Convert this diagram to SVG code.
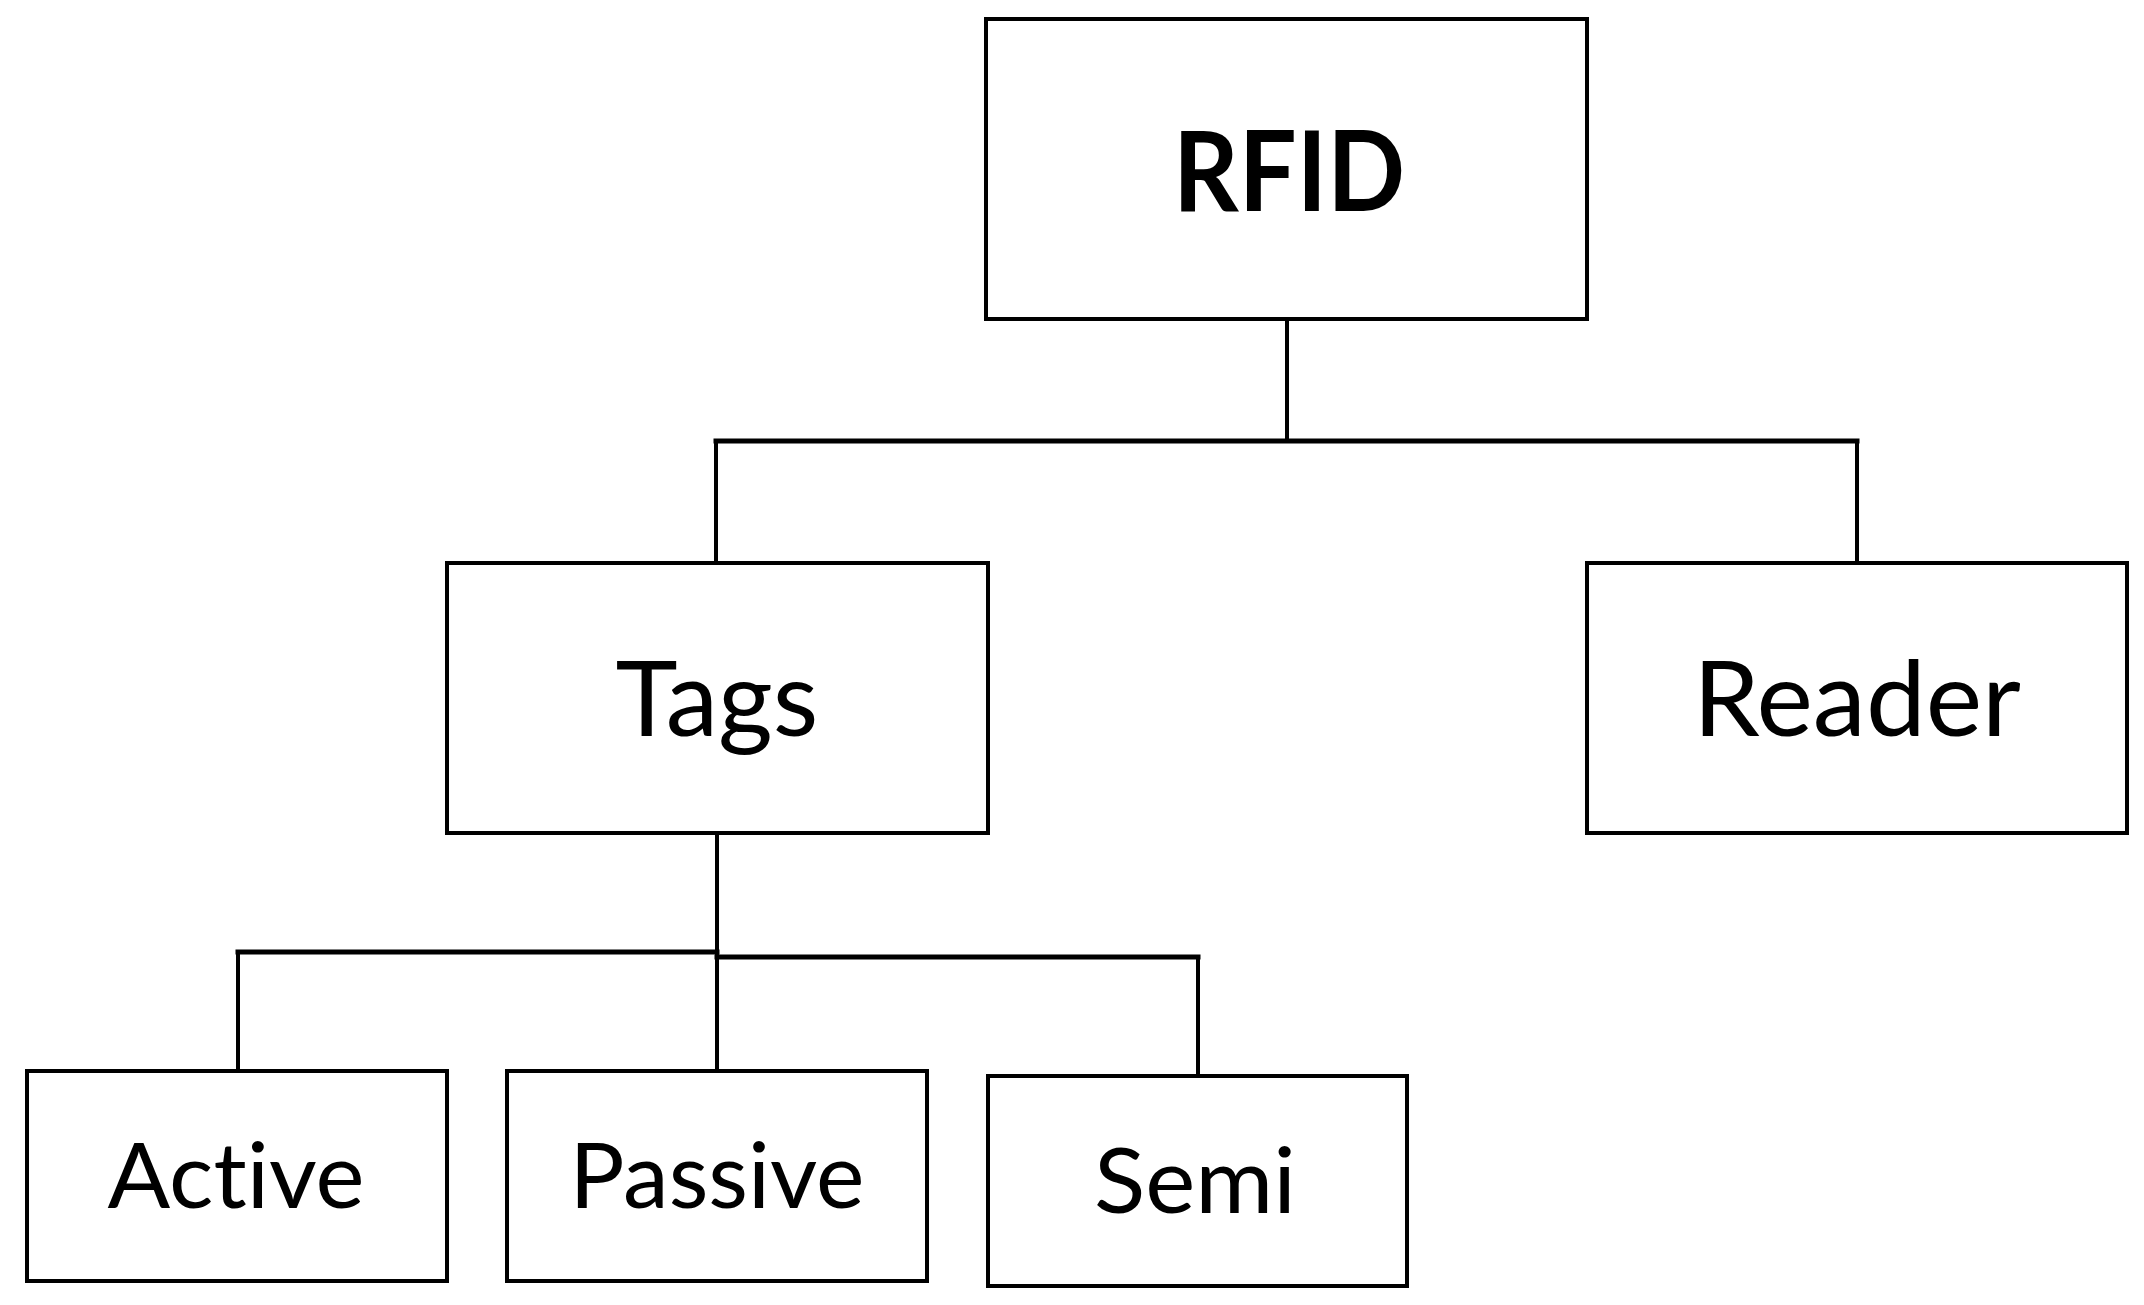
<svg xmlns="http://www.w3.org/2000/svg" width="2144" height="1305" viewBox="0 0 2144 1305">
<style>
.box{fill:#fff;stroke:#000;stroke-width:4}
.lbl{font-family:Lato,"Open Sans","Liberation Sans",sans-serif;fill:#000;text-anchor:middle;font-variant-ligatures:none;font-feature-settings:"liga" 0}
.big{font-size:104px}
.sm{font-size:91px}
.bold{font-weight:bold;font-size:112px}
.con{fill:none;stroke:#000;stroke-width:4;stroke-linecap:square}
</style>
<rect width="2144" height="1305" fill="#fff"/>
<g id="connectors">
<line class="con" x1="1287" y1="319" x2="1287" y2="441"/>
<line class="con" x1="716" y1="441" x2="1857" y2="441" style="stroke-width:5"/>
<line class="con" x1="716" y1="441" x2="716" y2="563"/>
<line class="con" x1="1857" y1="441" x2="1857" y2="563"/>
<line class="con" x1="717" y1="833" x2="717" y2="1071"/>
<line class="con" x1="238" y1="952" x2="717" y2="952" style="stroke-width:5"/>
<line class="con" x1="717" y1="957" x2="1198" y2="957" style="stroke-width:5"/>
<line class="con" x1="238" y1="952" x2="238" y2="1071"/>
<line class="con" x1="1198" y1="957" x2="1198" y2="1076"/>
</g>
<g id="node-rfid">
<rect class="box" x="986" y="19" width="601" height="300"/>
<text class="lbl bold" x="1289" y="211" textLength="232" lengthAdjust="spacingAndGlyphs">RFID</text>
</g>
<g id="node-tags">
<rect class="box" x="447" y="563" width="541" height="270"/>
<text class="lbl big" x="717" y="736" textLength="203" lengthAdjust="spacingAndGlyphs">Tags</text>
</g>
<g id="node-reader">
<rect class="box" x="1587" y="563" width="540" height="270"/>
<text class="lbl big" x="1857" y="736" textLength="328" lengthAdjust="spacingAndGlyphs">Reader</text>
</g>
<g id="node-active">
<rect class="box" x="27" y="1071" width="420" height="210"/>
<text class="lbl sm" x="236" y="1208" textLength="257" lengthAdjust="spacingAndGlyphs">Active</text>
</g>
<g id="node-passive">
<rect class="box" x="507" y="1071" width="420" height="210"/>
<text class="lbl sm" x="717" y="1208" textLength="295" lengthAdjust="spacingAndGlyphs">Passive</text>
</g>
<g id="node-semi">
<rect class="box" x="988" y="1076" width="419" height="210"/>
<text class="lbl sm" x="1195" y="1213" textLength="202" lengthAdjust="spacingAndGlyphs">Semi</text>
</g>
</svg>
